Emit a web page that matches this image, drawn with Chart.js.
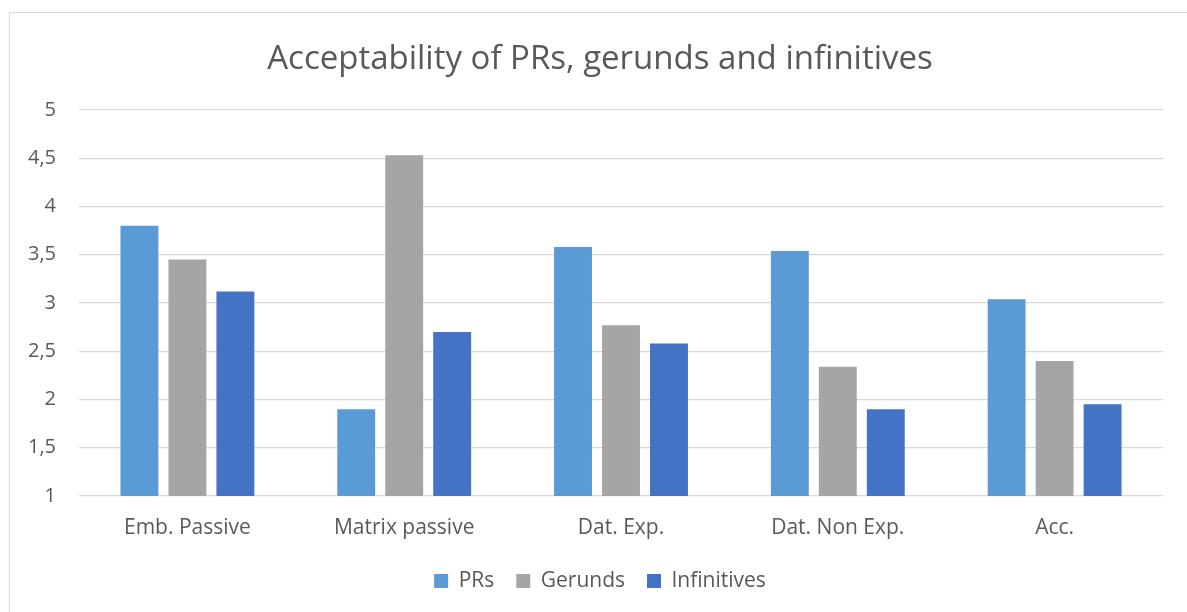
<!DOCTYPE html>
<html>
<head>
<meta charset="utf-8">
<title>Acceptability of PRs, gerunds and infinitives</title>
<script src="https://cdn.jsdelivr.net/npm/chart.js@4"></script>
<style>
  html, body { margin: 0; padding: 0; background: #fff; }
  #wrap { position: relative; width: 1187px; height: 612px; overflow: hidden; }
  #frame {
    position: absolute; left: 9px; top: 12px; width: 1200px; height: 620px;
    border-left: 1px solid #d9d9d9; border-top: 1px solid #d9d9d9;
    pointer-events: none;
  }
</style>
</head>
<body>
<div id="wrap">
  <!-- canvas a little wider than the window so title/legend centre like the original -->
  <canvas id="acceptChart" width="1200" height="612"></canvas>
  <div id="frame"></div>
</div>
<script>
// categories and series
const categories = ['Emb. Passive', 'Matrix passive', 'Dat. Exp.', 'Dat. Non Exp.', 'Acc.'];
const prs = [3.80, 1.90, 3.58, 3.54, 3.04];
const gerunds = [3.45, 4.53, 2.77, 2.34, 2.40];
const infinitives = [3.12, 2.70, 2.58, 1.90, 1.95];

const textColor = '#595959';
const gridColor = '#d9d9d9';

function series(label, data, color) {
  return {
    label: label,
    data: data,
    backgroundColor: color,
    borderWidth: 0,
    categoryPercentage: 0.664,
    barPercentage: 0.79
  };
}

const ctx = document.getElementById('acceptChart').getContext('2d');
const chart = new Chart(ctx, {
  type: 'bar',
  data: {
    labels: categories,
    datasets: [
      series('PRs', prs, '#5b9bd5'),
      series('Gerunds', gerunds, '#a5a5a5'),
      series('Infinitives', infinitives, '#4472c4')
    ]
  },
  options: {
    responsive: false,
    animation: false,
    layout: {
      padding: { left: 0, right: 0, top: 0, bottom: 10.5 }
    },
    plugins: {
      title: {
        display: true,
        text: 'Acceptability of PRs, gerunds and infinitives',
        color: textColor,
        font: { family: 'Open Sans', size: 33, weight: 'normal', lineHeight: 1.2 },
        padding: { top: 40, bottom: 30.4 }
      },
      legend: {
        position: 'bottom',
        labels: {
          color: textColor,
          font: { family: 'Open Sans', size: 21 },
          boxWidth: 14,
          boxHeight: 14,
          padding: 22
        }
      },
      tooltip: { enabled: false }
    },
    scales: {
      x: {
        grid: { display: false, drawTicks: false },
        border: { display: false },
        ticks: {
          color: textColor,
          font: { family: 'Open Sans', size: 21 },
          padding: 19,
          maxRotation: 0
        },
        afterFit: function(scale) { scale.height = 52.5; }
      },
      y: {
        min: 1,
        max: 5,
        grid: { color: gridColor, lineWidth: 1.3, drawTicks: false },
        border: { display: false },
        ticks: {
          stepSize: 0.5,
          color: textColor,
          font: { family: 'Open Sans', size: 20 },
          padding: 23,
          callback: function(v) { return String(v).replace('.', ','); }
        },
        afterFit: function(scale) { scale.width = 79; }
      },
      // empty right margin axis, just reserves space
      yPad: {
        type: 'linear',
        position: 'right',
        display: true,
        grid: { display: false, drawTicks: false },
        border: { display: false },
        ticks: { display: false },
        afterFit: function(scale) { scale.width = 37; }
      }
    }
  }
});
</script>
</body>
</html>
